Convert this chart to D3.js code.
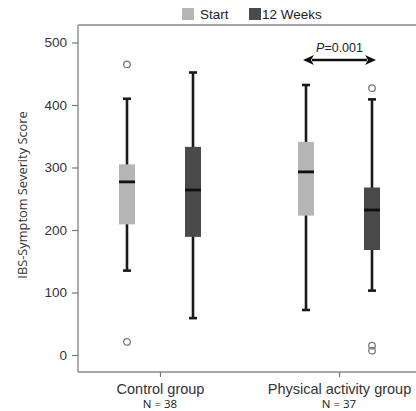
<!DOCTYPE html>
<html>
<head>
<meta charset="utf-8">
<script src="https://cdn.jsdelivr.net/npm/d3@7"></script>
<style>
  html, body { margin: 0; padding: 0; background: #fff; }
  svg { display: block; }
</style>
</head>
<body>
<svg id="chart" width="416" height="411"></svg>
<script>
// Groups and series
const groups = ["Control group", "Physical activity group"];
const groupN = ["N = 38", "N = 37"];
const series = ["Start", "12 Weeks"];
const seriesColors = ["#b5b5b5", "#4a4a4a"];

// Box statistics per group, per series: [low whisker, Q1, median, Q3, high whisker]
const startStats = [
  [135, 209, 277, 305, 410],
  [72, 223, 293, 341, 432]
];
const weeksStats = [
  [59, 189, 264, 333, 452],
  [103, 168, 232, 268, 409]
];
// Outliers per group, per series
const startOutliers = [[465, 21], []];
const weeksOutliers = [[], [427, 15, 7]];

const yTicks = [0, 100, 200, 300, 400, 500];
const pLabel = "0.001";

const svg = d3.select("#chart");
const margin = { left: 78, top: 25, right: 416, bottom: 372 };

const y = d3.scaleLinear().domain([0, 500]).range([355, 42.5]);
const xCenters = d3.scalePoint().domain(groups).range([160, 339]);
const offset = d3.scaleOrdinal().domain(series).range([-33, 33]);

// Frame: top and bottom lines, left axis
svg.append("line").attr("x1", margin.left).attr("x2", 416).attr("y1", margin.top).attr("y2", margin.top)
  .attr("stroke", "#8a8a8a").attr("stroke-width", 1.4);
svg.append("line").attr("x1", margin.left).attr("x2", 416).attr("y1", margin.bottom).attr("y2", margin.bottom)
  .attr("stroke", "#8a8a8a").attr("stroke-width", 1.4);

const yAxis = svg.append("g").attr("transform", `translate(${margin.left},0)`)
  .call(d3.axisLeft(y).tickValues(yTicks).tickSize(6).tickPadding(5));
yAxis.select(".domain").attr("d", `M0,${margin.top}V${margin.bottom}`).attr("stroke", "#8a8a8a").attr("stroke-width", 1.4);
yAxis.selectAll(".tick line").attr("stroke", "#777").attr("stroke-width", 1.2);
yAxis.selectAll(".tick text").attr("fill", "#333").attr("font-family", "Liberation Sans, Arial, sans-serif")
  .attr("font-size", 13.5);

const xAxis = svg.append("g").attr("transform", `translate(0,${margin.bottom})`)
  .call(d3.axisBottom(xCenters).tickSize(5).tickPadding(7));
xAxis.select(".domain").remove();
xAxis.selectAll(".tick line").attr("stroke", "#777").attr("stroke-width", 1.2);
xAxis.selectAll(".tick text").attr("fill", "#333").attr("font-family", "Liberation Sans, Arial, sans-serif")
  .attr("font-size", 14.5);

// Sample sizes under group names
svg.selectAll(".ncount").data(groups).join("text")
  .attr("class", "ncount")
  .attr("x", d => xCenters(d))
  .attr("y", 408)
  .attr("text-anchor", "middle")
  .attr("font-family", "Open Sans, Noto Sans, sans-serif")
  .attr("font-size", 11.5)
  .attr("fill", "#222")
  .text((d, i) => groupN[i]);

// Y title
svg.append("text")
  .attr("transform", "translate(27,195) rotate(-90)")
  .attr("text-anchor", "middle")
  .attr("font-family", "Open Sans, Noto Sans, sans-serif")
  .attr("font-size", 12.8)
  .attr("fill", "#333")
  .text("IBS-Symptom Severity Score");

// Boxes
const boxW = 16, capW = 8;
const boxData = [];
groups.forEach((g, gi) => {
  boxData.push({ g, s: series[0], stats: startStats[gi], out: startOutliers[gi], color: seriesColors[0] });
  boxData.push({ g, s: series[1], stats: weeksStats[gi], out: weeksOutliers[gi], color: seriesColors[1] });
});

const boxes = svg.selectAll(".box").data(boxData).join("g").attr("class", "box")
  .attr("transform", d => `translate(${xCenters(d.g) + offset(d.s)},0)`);

// whiskers
boxes.append("line").attr("x1", 0).attr("x2", 0)
  .attr("y1", d => y(d.stats[0])).attr("y2", d => y(d.stats[4]))
  .attr("stroke", "#1a1a1a").attr("stroke-width", 2.6);
boxes.append("line").attr("x1", -capW / 2).attr("x2", capW / 2)
  .attr("y1", d => y(d.stats[4])).attr("y2", d => y(d.stats[4]))
  .attr("stroke", "#1a1a1a").attr("stroke-width", 2.6);
boxes.append("line").attr("x1", -capW / 2).attr("x2", capW / 2)
  .attr("y1", d => y(d.stats[0])).attr("y2", d => y(d.stats[0]))
  .attr("stroke", "#1a1a1a").attr("stroke-width", 2.6);
// box body
boxes.append("rect").attr("x", -boxW / 2).attr("width", boxW)
  .attr("y", d => y(d.stats[3])).attr("height", d => y(d.stats[1]) - y(d.stats[3]))
  .attr("fill", d => d.color);
// median
boxes.append("line").attr("x1", -boxW / 2).attr("x2", boxW / 2)
  .attr("y1", d => y(d.stats[2])).attr("y2", d => y(d.stats[2]))
  .attr("stroke", "#111").attr("stroke-width", 2.8);
// outliers
boxes.selectAll("circle").data(d => d.out).join("circle")
  .attr("cx", 0).attr("cy", d => y(d)).attr("r", 3.3)
  .attr("fill", "none").attr("stroke", "#777").attr("stroke-width", 1.3);

// Legend
const legend = svg.append("g").attr("font-family", "Liberation Sans, Arial, sans-serif").attr("font-size", 13.5).attr("fill", "#222");
const legX = [182, 249];
series.forEach((s, i) => {
  legend.append("rect").attr("x", legX[i]).attr("y", 8).attr("width", 12).attr("height", 12).attr("fill", seriesColors[i]);
  legend.append("text").attr("x", legX[i] + (i === 0 ? 18 : 13)).attr("y", 19).text(s);
});

// Significance arrow between time points of the physical activity group
const pg = groups[1];
const ax1 = xCenters(pg) + offset(series[0]) - 3;
const ax2 = xCenters(pg) + offset(series[1]) + 4;
const ay = 60;
const head = 11, hw = 5;
svg.append("line").attr("x1", ax1 + head - 2).attr("x2", ax2 - head + 2).attr("y1", ay).attr("y2", ay)
  .attr("stroke", "#111").attr("stroke-width", 2.4);
svg.append("path").attr("d", `M${ax1},${ay}L${ax1 + head},${ay - hw}L${ax1 + head - 3},${ay}L${ax1 + head},${ay + hw}Z`).attr("fill", "#111");
svg.append("path").attr("d", `M${ax2},${ay}L${ax2 - head},${ay - hw}L${ax2 - head + 3},${ay}L${ax2 - head},${ay + hw}Z`).attr("fill", "#111");

const pt = svg.append("text").attr("x", (ax1 + ax2) / 2).attr("y", 52).attr("text-anchor", "middle")
  .attr("font-family", "Liberation Sans, Arial, sans-serif").attr("font-size", 12.5).attr("fill", "#222");
pt.append("tspan").attr("font-style", "italic").text("P");
pt.append("tspan").text("=" + pLabel);
</script>
</body>
</html>
